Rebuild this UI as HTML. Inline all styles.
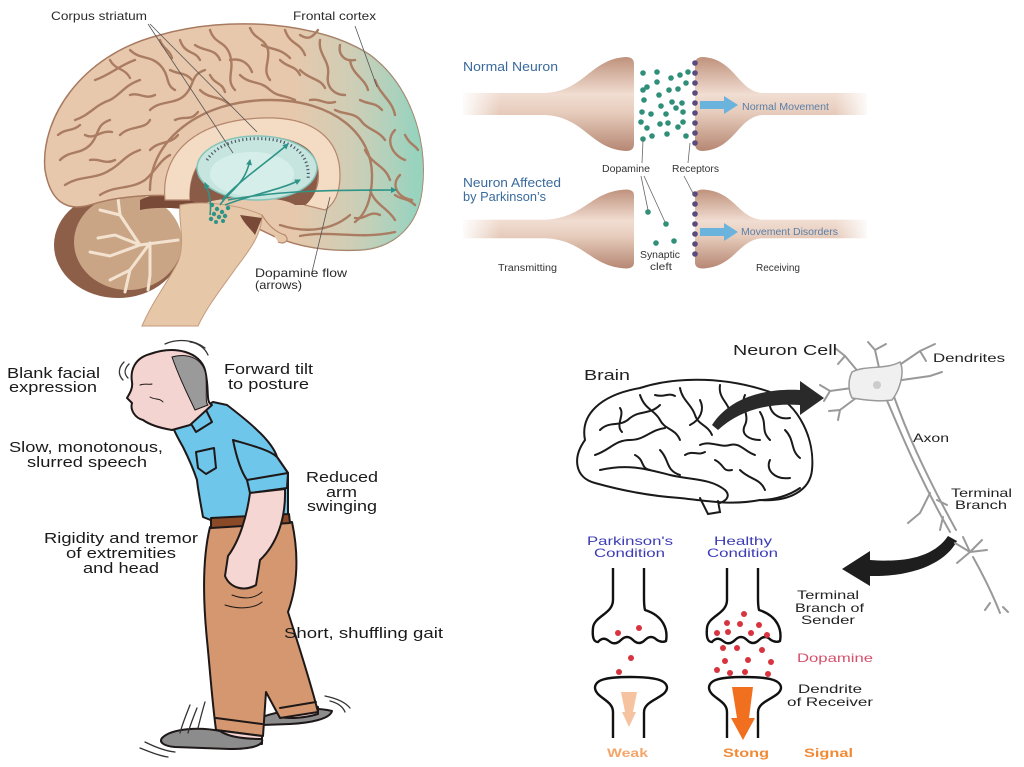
<!DOCTYPE html>
<html><head><meta charset="utf-8"><style>
html,body{margin:0;padding:0;background:#fff;}
svg{display:block;}
text{font-family:"Liberation Sans",Arial,sans-serif;}
</style></head><body>
<svg width="1024" height="767" viewBox="0 0 1024 767" xmlns="http://www.w3.org/2000/svg">
<defs>
<linearGradient id="teal" x1="290" y1="0" x2="415" y2="0" gradientUnits="userSpaceOnUse">
<stop offset="0" stop-color="#9fd8c8" stop-opacity="0"/>
<stop offset="0.5" stop-color="#9fd8c8" stop-opacity="0.35"/>
<stop offset="1" stop-color="#8fd4c0" stop-opacity="0.9"/>
</linearGradient>
<linearGradient id="bulb" x1="0" y1="0" x2="0" y2="1">
<stop offset="0" stop-color="#bf927c"/>
<stop offset="0.4" stop-color="#f1ddd2"/>
<stop offset="0.6" stop-color="#e6cbbb"/>
<stop offset="1" stop-color="#b68773"/>
</linearGradient>
<linearGradient id="fadeL" x1="0" y1="0" x2="1" y2="0">
<stop offset="0" stop-color="#fff" stop-opacity="1"/>
<stop offset="1" stop-color="#fff" stop-opacity="0"/>
</linearGradient>
<linearGradient id="fadeR" x1="0" y1="0" x2="1" y2="0">
<stop offset="0" stop-color="#fff" stop-opacity="0"/>
<stop offset="1" stop-color="#fff" stop-opacity="1"/>
</linearGradient>
<clipPath id="cer"><path d="M45,170 C40,120 80,55 160,35 C230,15 320,22 370,55 C410,85 428,140 422,190 C418,225 395,248 360,250 C320,252 290,245 265,232 L245,222 C225,215 215,205 200,200 C170,192 120,195 90,205 C65,212 50,200 45,170 Z"/></clipPath>
<marker id="ta" markerWidth="6" markerHeight="6" refX="5" refY="3" orient="auto" markerUnits="userSpaceOnUse"><path d="M0,0 L6,3 L0,6 Z" fill="#2e9488"/></marker>
</defs>

<!-- ============ TOP-LEFT BRAIN ============ -->
<ellipse cx="118" cy="245" rx="64" ry="53" fill="#8d5e48"/>
<ellipse cx="128" cy="242" rx="54" ry="48" fill="#caa585"/>
<g stroke="#f2e2cf" stroke-width="3" fill="none" stroke-linecap="round">
<path d="M178,240 L140,245 L115,235 L98,238"/>
<path d="M140,245 L110,256 L90,252"/>
<path d="M150,243 L130,270 L110,280"/>
<path d="M130,270 L125,292"/>
<path d="M140,245 L120,215 L100,210"/>
<path d="M120,215 L118,198"/>
<path d="M150,243 L150,275 L148,290"/>
</g>
<path d="M140,200 C160,190 190,190 215,200 L220,215 C195,210 165,205 140,210 Z" fill="#7a4a38"/>
<path d="M45,170 C40,120 80,55 160,35 C230,15 320,22 370,55 C410,85 428,140 422,190 C418,225 395,248 360,250 C320,252 290,245 265,232 L245,222 C225,215 215,205 200,200 C170,192 120,195 90,205 C65,212 50,200 45,170 Z" fill="#e8c8ac" stroke="#a87a60" stroke-width="1.5"/>
<g clip-path="url(#cer)">
<rect x="280" y="0" width="150" height="260" fill="url(#teal)"/>
</g>
<g stroke="#aa7c62" stroke-width="2.4" fill="none" stroke-linecap="round">
<path d="M60,160 C70,150 80,155 90,145 C100,135 95,125 110,120"/>
<path d="M75,120 C90,115 95,105 110,100 C120,95 125,85 140,80"/>
<path d="M95,80 C110,75 120,65 135,60"/>
<path d="M130,50 C140,60 150,55 160,65 C170,75 165,85 175,90"/>
<path d="M150,110 C160,100 175,105 185,95 C195,85 190,75 205,70"/>
<path d="M65,185 C80,175 95,180 110,170 C120,165 125,155 140,150"/>
<path d="M120,135 C130,125 145,130 150,120"/>
<path d="M100,195 C115,185 130,190 145,180 C155,172 160,160 170,155"/>
<path d="M180,40 C185,55 195,50 200,60"/>
<path d="M210,30 C215,45 225,40 230,55 C235,70 225,80 235,90"/>
<path d="M250,28 C255,40 265,38 268,50 C270,62 262,70 270,80"/>
<path d="M285,30 C290,45 300,42 305,55"/>
<path d="M320,40 C318,55 330,60 328,75 C326,88 335,95 345,95"/>
<path d="M350,60 C352,75 365,78 368,90"/>
<path d="M375,80 C380,95 392,100 395,115"/>
<path d="M395,130 C385,140 392,155 405,160"/>
<path d="M400,175 C390,185 398,198 412,200"/>
<path d="M380,215 C370,210 365,220 355,218"/>
<path d="M200,90 C210,100 220,95 230,105"/>
<path d="M240,75 C250,85 260,80 270,90 C278,97 285,95 295,100"/>
<path d="M300,70 C310,80 320,78 325,88"/>
<path d="M335,110 C345,115 355,112 362,122 C368,130 378,130 385,140"/>
<path d="M365,150 C372,165 385,165 390,180"/>
<path d="M370,190 C375,205 388,208 395,220"/>
<path d="M150,150 C160,140 170,145 178,135"/>
<path d="M85,135 C95,140 100,130 112,132"/>
<path d="M175,120 C185,115 190,122 198,112"/>
<path d="M58,135 C66,128 72,132 80,125"/>
<path d="M110,60 C115,70 125,68 130,78"/>
<path d="M160,40 C162,48 170,50 172,58"/>
<path d="M195,45 C205,52 215,48 220,60"/>
<path d="M230,60 C240,58 248,62 252,72"/>
<path d="M262,45 C272,50 280,48 290,58"/>
<path d="M300,35 C308,40 312,38 318,30"/>
<path d="M340,45 C338,55 345,62 355,60"/>
<path d="M360,100 C370,105 375,102 382,110"/>
<path d="M405,135 C410,145 415,145 418,150"/>
<path d="M395,195 C402,200 408,198 415,205"/>
<path d="M130,95 C140,92 145,100 155,95"/>
<path d="M90,160 C100,158 105,165 115,160"/>
<path d="M170,70 C180,75 185,72 192,80"/>
<path d="M210,75 C215,85 222,82 225,92"/>
<path d="M280,60 C288,68 295,65 300,75"/>
<path d="M310,100 C320,98 325,105 335,102"/>
<path d="M150,190 C150,140 200,100 270,100 C335,100 372,135 372,175 C372,200 365,215 355,222"/>
<path d="M300,236 C330,230 360,240 395,232"/>
<path d="M280,225 C310,235 335,228 350,215"/>
</g>
<path d="M165,200 C160,150 200,120 262,118 C315,116 340,140 340,175 C340,195 333,205 325,210 L305,205 C315,195 320,185 318,170 C315,148 295,137 262,137 C215,138 188,160 190,200 Z" fill="#f3dcc3" stroke="#b5876d" stroke-width="1.2"/>
<path d="M190,200 C188,165 210,140 262,138 C300,137 318,150 318,172 C318,190 312,200 305,205 L295,205 C280,195 220,195 200,205 Z" fill="#8a5c48"/>
<path d="M180,205 C205,200 240,205 262,215 C262,235 248,252 236,268 C222,288 208,305 198,326 L142,326 C152,302 168,282 178,262 C186,242 178,222 180,205 Z" fill="#e6c7a8" stroke="#c49a7c" stroke-width="1"/>
<path d="M262,215 C268,225 275,232 285,235 C290,240 285,245 278,242" fill="#e6c7a8" stroke="#b5876d" stroke-width="1.2"/>
<path d="M240,215 C245,225 250,228 255,235 L262,218 Z" fill="#7a4a38"/>
<ellipse cx="257" cy="168" rx="60" ry="32" fill="#c6e5df" stroke="#86c3b9" stroke-width="1.5"/>
<ellipse cx="252" cy="174" rx="42" ry="22" fill="#d6eee9"/>
<path d="M207,160 C220,140 250,136 275,140 C300,145 310,160 308,180" fill="none" stroke="#4e5a66" stroke-width="3" stroke-dasharray="1.2 2.6"/>
<g stroke="#2e9488" stroke-width="1.6" fill="none">
<path d="M220,205 C230,190 245,185 250,160" marker-end="url(#ta)"/>
<path d="M222,200 C240,180 270,160 288,144" marker-end="url(#ta)"/>
<path d="M225,205 C250,195 280,190 300,180" marker-end="url(#ta)"/>
<path d="M228,200 C280,190 340,190 396,190" marker-end="url(#ta)"/>
<path d="M210,215 C212,200 208,190 205,183" marker-end="url(#ta)"/>
</g>
<g fill="#2e9488">
<circle cx="212" cy="205" r="2.2"/><circle cx="217" cy="209" r="2.2"/><circle cx="222" cy="212" r="2.2"/><circle cx="214" cy="214" r="2.2"/><circle cx="219" cy="217" r="2.2"/><circle cx="225" cy="216" r="2.2"/><circle cx="211" cy="219" r="2.2"/><circle cx="228" cy="208" r="2.2"/><circle cx="216" cy="222" r="2"/><circle cx="223" cy="221" r="2"/>
</g>
<g stroke="#555" stroke-width="0.8" fill="none">
<path d="M148,24 L233,153"/>
<path d="M150,24 L257,132"/>
<path d="M355,26 L377,87"/>
<path d="M312,272 L330,197"/>
</g>
<g fill="#2a2a2a" font-size="12">
<text x="51" y="20" textLength="96" lengthAdjust="spacingAndGlyphs">Corpus striatum</text>
<text x="293" y="20" textLength="83" lengthAdjust="spacingAndGlyphs">Frontal cortex</text>
<text x="255" y="277" textLength="92" lengthAdjust="spacingAndGlyphs">Dopamine flow</text>
<text x="255" y="289" textLength="47" lengthAdjust="spacingAndGlyphs">(arrows)</text>
</g>

<!-- ============ TOP-RIGHT SYNAPSE ============ -->
<g transform="translate(0,104)">
<path d="M463,-11 L545,-11 C585,-13 590,-45 626,-47 Q634,-47 634,-40 L634,40 Q634,47 626,47 C590,45 585,13 545,11 L463,11 Z" fill="url(#bulb)"/>
<path d="M695,-40 Q695,-47 703,-47 C735,-45 738,-13 762,-11 L867,-11 L867,11 L762,11 C738,13 735,45 703,47 Q695,47 695,40 Z" fill="url(#bulb)"/>
</g>
<g transform="translate(0,229) scale(1,0.84)">
<path d="M463,-11 L545,-11 C585,-13 590,-45 626,-47 Q634,-47 634,-40 L634,40 Q634,47 626,47 C590,45 585,13 545,11 L463,11 Z" fill="url(#bulb)"/>
<path d="M695,-40 Q695,-47 703,-47 C735,-45 738,-13 762,-11 L867,-11 L867,11 L762,11 C738,13 735,45 703,47 Q695,47 695,40 Z" fill="url(#bulb)"/>
</g>
<rect x="460" y="80" width="40" height="180" fill="url(#fadeL)"/>
<rect x="835" y="80" width="36" height="180" fill="url(#fadeR)"/>
<g fill="#5a4a7e">
<circle cx="695" cy="63" r="2.8"/><circle cx="695" cy="73" r="2.8"/><circle cx="695" cy="83" r="2.8"/><circle cx="695" cy="93" r="2.8"/><circle cx="695" cy="103" r="2.8"/><circle cx="695" cy="113" r="2.8"/><circle cx="695" cy="123" r="2.8"/><circle cx="695" cy="133" r="2.8"/><circle cx="695" cy="143" r="2.8"/>
<circle cx="695" cy="194" r="2.8"/><circle cx="695" cy="204" r="2.8"/><circle cx="695" cy="214" r="2.8"/><circle cx="695" cy="224" r="2.8"/><circle cx="695" cy="234" r="2.8"/><circle cx="695" cy="244" r="2.8"/><circle cx="695" cy="254" r="2.8"/>
</g>
<g fill="#2f8f78">
<circle cx="643" cy="73" r="2.8"/><circle cx="657" cy="72" r="2.8"/><circle cx="671" cy="78" r="2.8"/><circle cx="680" cy="75" r="2.8"/><circle cx="688" cy="72" r="2.8"/><circle cx="643" cy="90" r="2.8"/><circle cx="647" cy="87" r="2.8"/><circle cx="657" cy="82" r="2.8"/><circle cx="669" cy="90" r="2.8"/><circle cx="678" cy="89" r="2.8"/><circle cx="686" cy="83" r="2.8"/><circle cx="659" cy="95" r="2.8"/><circle cx="672" cy="102" r="2.8"/><circle cx="682" cy="103" r="2.8"/><circle cx="644" cy="100" r="2.8"/><circle cx="642" cy="112" r="2.8"/><circle cx="651" cy="114" r="2.8"/><circle cx="661" cy="106" r="2.8"/><circle cx="666" cy="114" r="2.8"/><circle cx="676" cy="108" r="2.8"/><circle cx="683" cy="112" r="2.8"/><circle cx="641" cy="122" r="2.8"/><circle cx="647" cy="128" r="2.8"/><circle cx="660" cy="124" r="2.8"/><circle cx="668" cy="123" r="2.8"/><circle cx="678" cy="127" r="2.8"/><circle cx="683" cy="122" r="2.8"/><circle cx="643" cy="139" r="2.8"/><circle cx="652" cy="136" r="2.8"/><circle cx="667" cy="134" r="2.8"/><circle cx="686" cy="136" r="2.8"/>
<circle cx="648" cy="212" r="2.8"/><circle cx="666" cy="224" r="2.8"/><circle cx="656" cy="243" r="2.8"/><circle cx="674" cy="241" r="2.8"/>
</g>
<g stroke="#666" stroke-width="0.8" fill="none">
<path d="M643,140 L642,163"/>
<path d="M641,176 L648,210"/>
<path d="M644,176 L665,222"/>
<path d="M690,143 L688,163"/>
<path d="M684,176 L695,197"/>
</g>
<path d="M700,101 L724,101 L724,96 L738,105 L724,114 L724,109 L700,109 Z" fill="#6ab3dc"/>
<path d="M700,228 L724,228 L724,223 L738,232 L724,241 L724,236 L700,236 Z" fill="#6ab3dc"/>
<g fill="#3a6a9c" font-size="13">
<text x="463" y="71" textLength="95" lengthAdjust="spacingAndGlyphs">Normal  Neuron</text>
<text x="463" y="187" textLength="98" lengthAdjust="spacingAndGlyphs">Neuron Affected</text>
<text x="463" y="201" textLength="83" lengthAdjust="spacingAndGlyphs">by Parkinson’s</text>
</g>
<g fill="#333" font-size="10">
<text x="602" y="172" textLength="48" lengthAdjust="spacingAndGlyphs">Dopamine</text>
<text x="672" y="172" textLength="47" lengthAdjust="spacingAndGlyphs">Receptors</text>
<text x="498" y="271" textLength="59" lengthAdjust="spacingAndGlyphs">Transmitting</text>
<text x="640" y="258" textLength="40" lengthAdjust="spacingAndGlyphs">Synaptic</text>
<text x="650" y="270" textLength="22" lengthAdjust="spacingAndGlyphs">cleft</text>
<text x="756" y="271" textLength="44" lengthAdjust="spacingAndGlyphs">Receiving</text>
</g>
<g fill="#5a7fa8" font-size="10">
<text x="742" y="110" textLength="87" lengthAdjust="spacingAndGlyphs">Normal Movement</text>
<text x="741" y="235" textLength="97" lengthAdjust="spacingAndGlyphs">Movement Disorders</text>
</g>

<!-- ============ BOTTOM-LEFT MAN ============ -->
<g stroke="#1e1818" stroke-width="2" stroke-linejoin="round" stroke-linecap="round">
<path d="M262,717 C282,710 312,706 332,711 C330,719 310,723 290,724 L262,725 Z" fill="#8c8c8c"/>
<path d="M280,712 C295,706 310,703 318,707 L318,714 C305,718 290,719 280,717 Z" fill="#f6d6d3"/>
<path d="M210,527 L292,522 C300,560 296,590 288,612 C300,650 310,680 318,712 L280,718 L266,692 L263,736 L216,730 C212,700 210,670 207,640 C203,600 202,560 210,527 Z" fill="#d4976f"/>
<path d="M216,718 L262,724" fill="none"/>
<path d="M280,708 L316,702" fill="none"/>
<path d="M215,730 L262,736 L262,744 L222,744 Z" fill="#f6d6d3"/>
<path d="M162,738 C172,728 200,727 220,731 C230,738 250,739 262,739 C264,746 250,749 230,749 L175,747 C163,746 159,742 162,738 Z" fill="#8c8c8c"/>
<path d="M172,425 L187,417 L213,402 L227,405 C240,415 252,425 257,430 C268,440 275,450 277,457 L288,473 L288,517 L213,521 L203,517 C200,500 198,490 197,480 C192,465 187,455 183,447 C179,440 175,433 172,425 Z" fill="#6ec6ea"/>
<path d="M233,440 C250,445 270,450 277,457 L288,473 L287,488 L250,493 L247,480 C240,470 236,455 233,440 Z" fill="#6ec6ea"/>
<path d="M247,480 L288,473" fill="none"/>
<path d="M196,452 L214,448 L216,468 L206,474 L198,468 Z" fill="none"/>
<path d="M187,417 L196,432 L212,422 L205,408" fill="none"/>
<path d="M211,518 L289,514 L290,523 L211,528 Z" fill="#8a4a28"/>
<path d="M250,493 L285,489 C286,520 276,545 260,560 L256,585 C244,592 230,588 225,576 L228,556 C240,540 247,515 250,493 Z" fill="#f6d6d3"/>
<path d="M150,354 C175,345 200,352 205,370 C210,390 205,402 212,405 L190,425 L172,430 C160,428 150,425 143,420 C135,418 130,410 132,403 L127,398 C130,393 133,388 132,382 C130,370 135,358 150,354 Z" fill="#f4d4d0"/>
<path d="M172,357 C190,352 205,360 206,378 C207,395 205,402 208,405 L195,410 C188,395 180,380 172,357 Z" fill="#9a9a9a" stroke-width="1"/>
<path d="M150,397 C155,400 160,398 163,402" fill="none" stroke-width="1"/>
<path d="M140,385 C145,383 150,385 152,384" fill="none" stroke-width="1"/>
<path d="M232,595 C245,600 255,598 262,592" fill="none" stroke-width="1"/>
<path d="M225,605 C240,610 255,608 262,602" fill="none" stroke-width="1"/>
</g>
<g stroke="#333" stroke-width="1.3" fill="none" stroke-linecap="round">
<path d="M124,362 C118,368 118,375 123,380"/>
<path d="M129,364 C124,369 124,374 128,378"/>
<path d="M165,344 C178,338 195,340 205,348"/>
<path d="M190,342 C198,343 205,348 208,355"/>
<path d="M140,748 C150,752 160,756 168,757"/>
<path d="M145,742 C155,747 165,751 175,752"/>
<path d="M190,705 C186,715 182,725 180,733"/>
<path d="M197,708 C193,718 190,726 188,733"/>
<path d="M205,702 C202,712 200,720 198,728"/>
<path d="M325,696 C335,698 345,702 350,708"/>
<path d="M330,701 C338,703 343,707 345,712"/>
</g>
<g fill="#1a1a1a" font-size="15">
<text x="7" y="378" textLength="93" lengthAdjust="spacingAndGlyphs">Blank facial</text>
<text x="9" y="392" textLength="88" lengthAdjust="spacingAndGlyphs">expression</text>
<text x="224" y="374" textLength="89" lengthAdjust="spacingAndGlyphs">Forward tilt</text>
<text x="228" y="389" textLength="81" lengthAdjust="spacingAndGlyphs">to posture</text>
<text x="9" y="452" textLength="154" lengthAdjust="spacingAndGlyphs">Slow, monotonous,</text>
<text x="27" y="467" textLength="120" lengthAdjust="spacingAndGlyphs">slurred speech</text>
<text x="306" y="482" textLength="72" lengthAdjust="spacingAndGlyphs">Reduced</text>
<text x="326" y="497" textLength="31" lengthAdjust="spacingAndGlyphs">arm</text>
<text x="307" y="511" textLength="70" lengthAdjust="spacingAndGlyphs">swinging</text>
<text x="44" y="543" textLength="154" lengthAdjust="spacingAndGlyphs">Rigidity and tremor</text>
<text x="66" y="558" textLength="110" lengthAdjust="spacingAndGlyphs">of extremities</text>
<text x="83" y="573" textLength="76" lengthAdjust="spacingAndGlyphs">and head</text>
<text x="284" y="638" textLength="159" lengthAdjust="spacingAndGlyphs">Short, shuffling gait</text>
</g>

<!-- ============ BOTTOM-RIGHT ============ -->
<g stroke="#1a1a1a" stroke-width="2" fill="none" stroke-linecap="round">
<path d="M585,440 C580,415 600,395 640,388 C680,375 730,378 770,392 C800,405 815,440 812,470 C810,490 790,502 760,500 C730,506 700,500 680,498 C650,496 620,490 595,483 C575,478 572,458 585,440 Z" fill="#fff"/>
<path d="M600,430 C610,420 620,428 630,418 C640,410 650,415 660,405"/>
<path d="M595,455 C610,450 615,440 630,440 C645,440 650,430 665,428"/>
<path d="M640,395 C645,410 655,410 660,420 C665,430 675,428 680,440"/>
<path d="M680,388 C682,400 692,405 695,415 C698,425 708,425 712,435"/>
<path d="M720,385 C718,398 728,402 730,412"/>
<path d="M745,395 C740,405 750,415 745,425 C740,435 750,440 760,440"/>
<path d="M770,400 C768,412 778,420 790,418"/>
<path d="M785,430 C795,440 790,450 800,458"/>
<path d="M700,445 C710,440 720,448 730,445 C740,442 745,452 755,455"/>
<path d="M660,450 C670,460 665,470 680,475"/>
<path d="M600,470 C630,463 650,470 670,475 C690,480 710,478 725,490 C730,495 728,500 720,503"/>
<path d="M770,460 C765,470 775,480 790,478"/>
<path d="M740,470 C750,480 760,478 765,490"/>
<path d="M620,408 C625,415 615,425 622,432"/>
<path d="M700,400 C705,410 700,420 690,425"/>
<path d="M635,455 C645,460 640,468 650,470"/>
<path d="M715,460 C725,465 722,472 732,470"/>
<path d="M655,395 C665,398 668,392 675,396"/>
<path d="M760,412 C768,425 760,430 770,440"/>
<path d="M685,455 C692,450 698,456 705,452"/>
<path d="M760,500 C775,500 790,495 800,488"/>
<path d="M700,498 L708,514 L720,512 L718,501"/>
</g>
<path d="M712,425 C728,400 760,388 800,390 L800,381 L824,398 L800,415 L800,405 C768,403 740,410 718,430 Z" fill="#2a2a2a"/>
<path d="M948,536 C935,555 910,563 870,560 L870,551 L842,569 L870,586 L870,576 C915,577 946,562 957,541 Z" fill="#1e1e1e"/>
<g stroke="#999" stroke-width="2" fill="none" stroke-linecap="round">
<path d="M860,374 L845,356 L835,348"/><path d="M845,356 L838,364"/>
<path d="M880,372 L875,350 L868,342"/><path d="M875,350 L886,344"/>
<path d="M898,366 L920,351 L935,344"/><path d="M920,351 L926,361"/>
<path d="M902,380 L930,376 L942,372"/>
<path d="M852,388 L830,391 L820,385"/><path d="M830,391 L824,401"/>
<path d="M856,398 L840,410 L838,420"/><path d="M840,410 L829,411"/>
<path d="M885,396 C900,430 915,470 950,532"/>
<path d="M893,394 C906,430 922,468 956,530"/>
<path d="M930,493 L920,513 L908,523"/><path d="M937,500 L947,505"/><path d="M943,517 L940,530"/>
<path d="M955,543 L970,552"/><path d="M963,537 L970,552"/><path d="M982,540 L970,552"/><path d="M987,550 L970,552"/><path d="M957,563 L970,552"/>
<path d="M973,557 C983,575 993,595 1000,613"/><path d="M990,603 L985,610"/><path d="M1003,607 L1008,612"/>
</g>
<path d="M852,372 C865,365 885,370 900,362 C905,372 900,390 892,400 C880,402 865,400 852,398 C848,390 848,380 852,372 Z" fill="#f0f0f0" stroke="#999" stroke-width="1.5"/>
<circle cx="877" cy="385" r="4" fill="#ccc"/>
<g stroke="#111" stroke-width="2.4" fill="none" stroke-linejoin="round">
<path d="M613,568 L613,600 C613,614 594,616 593,628 C592,638 594,642 598,642 Q603,636 609,641 Q615,646 621,640 Q627,634 633,640 Q639,646 645,640 Q651,634 657,640 Q662,643 666,641 C668,630 664,616 645,610 C644,606 644,602 644,598 L644,568"/>
<path d="M613,738 L613,712 C613,700 596,698 595,688 C595,680 605,677 630,677 C655,677 667,680 667,688 C666,698 644,700 644,712 L644,738"/>
<path d="M727,568 L727,600 C727,614 708,616 707,628 C706,638 708,642 712,642 Q717,636 723,641 Q729,646 735,640 Q741,634 747,640 Q753,646 759,640 Q765,634 771,640 Q776,643 780,641 C782,630 778,616 759,610 C758,606 758,602 758,598 L758,568"/>
<path d="M727,738 L727,712 C727,700 710,698 709,688 C709,680 719,677 744,677 C769,677 781,680 781,688 C780,698 758,700 758,712 L758,738"/>
</g>
<g fill="#d8343f">
<circle cx="618" cy="633" r="3"/><circle cx="639" cy="628" r="3"/><circle cx="631" cy="658" r="3"/><circle cx="619" cy="672" r="3"/>
<circle cx="744" cy="614" r="3"/><circle cx="727" cy="623" r="3"/><circle cx="740" cy="624" r="3"/><circle cx="759" cy="625" r="3"/><circle cx="717" cy="633" r="3"/><circle cx="728" cy="632" r="3"/><circle cx="751" cy="633" r="3"/><circle cx="767" cy="635" r="3"/><circle cx="723" cy="648" r="3"/><circle cx="737" cy="648" r="3"/><circle cx="762" cy="650" r="3"/><circle cx="725" cy="661" r="3"/><circle cx="748" cy="660" r="3"/><circle cx="771" cy="662" r="3"/><circle cx="717" cy="670" r="3"/><circle cx="730" cy="673" r="3"/><circle cx="745" cy="672" r="3"/><circle cx="768" cy="674" r="3"/>
</g>
<path d="M621,692 L637,692 L633,712 L636,712 L629,727 L622,712 L625,712 Z" fill="#f6c3a0"/>
<path d="M732,687 L753,687 L749,718 L755,718 L743,740 L731,718 L737,718 Z" fill="#f07020"/>
<g font-size="15" fill="#222">
<text x="733" y="355" textLength="104" lengthAdjust="spacingAndGlyphs">Neuron Cell</text>
<text x="584" y="380" textLength="46" lengthAdjust="spacingAndGlyphs">Brain</text>
</g>
<g font-size="12" fill="#222">
<text x="933" y="362" textLength="72" lengthAdjust="spacingAndGlyphs">Dendrites</text>
<text x="913" y="442" textLength="36" lengthAdjust="spacingAndGlyphs">Axon</text>
<text x="951" y="497" textLength="61" lengthAdjust="spacingAndGlyphs">Terminal</text>
<text x="955" y="509" textLength="52" lengthAdjust="spacingAndGlyphs">Branch</text>
<text x="797" y="599" textLength="62" lengthAdjust="spacingAndGlyphs">Terminal</text>
<text x="795" y="612" textLength="69" lengthAdjust="spacingAndGlyphs">Branch of</text>
<text x="801" y="624" textLength="54" lengthAdjust="spacingAndGlyphs">Sender</text>
<text x="798" y="693" textLength="64" lengthAdjust="spacingAndGlyphs">Dendrite</text>
<text x="787" y="706" textLength="86" lengthAdjust="spacingAndGlyphs">of Receiver</text>
</g>
<g font-size="12" fill="#3b3bb5">
<text x="587" y="545" textLength="86" lengthAdjust="spacingAndGlyphs">Parkinson's</text>
<text x="594" y="557" textLength="71" lengthAdjust="spacingAndGlyphs">Condition</text>
<text x="714" y="545" textLength="58" lengthAdjust="spacingAndGlyphs">Healthy</text>
<text x="707" y="557" textLength="71" lengthAdjust="spacingAndGlyphs">Condition</text>
</g>
<text x="797" y="662" font-size="12" fill="#d4506a" textLength="76" lengthAdjust="spacingAndGlyphs">Dopamine</text>
<g font-size="12" font-weight="bold">
<text x="607" y="757" fill="#f4a66a" textLength="41" lengthAdjust="spacingAndGlyphs">Weak</text>
<text x="723" y="757" fill="#f08a35" textLength="46" lengthAdjust="spacingAndGlyphs">Stong</text>
<text x="804" y="757" fill="#f08a35" textLength="49" lengthAdjust="spacingAndGlyphs">Signal</text>
</g>
</svg>
</body></html>
